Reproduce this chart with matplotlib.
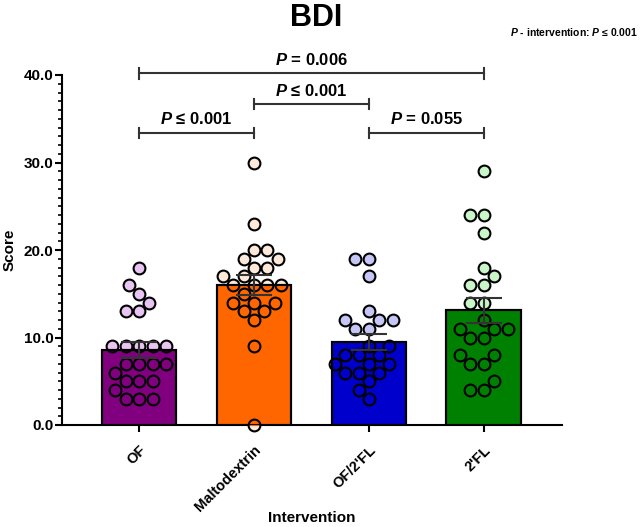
import numpy as np
import matplotlib
matplotlib.use('Agg')
import matplotlib.pyplot as plt

plt.rcParams['font.family'] = ['Liberation Sans', 'DejaVu Sans']
plt.rcParams['font.weight'] = 'bold'
plt.rcParams['mathtext.fontset'] = 'custom'
plt.rcParams['mathtext.it'] = 'Liberation Sans:italic:bold'
plt.rcParams['mathtext.rm'] = 'Liberation Sans:bold'

groups = ['OF', 'Maltodextrin', "OF/2'FL", "2'FL"]

of_scores = [18, 16, 15, 14, 13, 13, 9, 9, 9, 9, 9, 7, 7, 7, 7, 6, 5, 5, 5, 4, 3, 3, 3]
malto_scores = [30, 23, 20, 20, 19, 19, 18, 18, 17, 17, 16, 16, 16, 16, 15, 14, 14, 14, 13, 13, 12, 9, 0]
of2fl_scores = [19, 19, 17, 13, 12, 12, 12, 11, 11, 9, 9, 8, 8, 8, 7, 7, 7, 6, 6, 6, 5, 4, 3]
fl2_scores = [29, 24, 24, 22, 18, 17, 16, 16, 14, 14, 12, 11, 11, 11, 10, 10, 8, 8, 7, 7, 5, 4, 4]
all_scores = [of_scores, malto_scores, of2fl_scores, fl2_scores]

bar_colors = ['#800080', '#ff6600', '#0000cc', '#008000']
point_colors = ['#e8c4f2', '#fde9d9', '#c6c6f6', '#c8f6c8']

# pairwise comparisons: (group a, group b, bracket height, label)
comparisons = [
    (0, 3, 40.2, r'$\mathit{P}$ = 0.006'),
    (1, 2, 36.7, r'$\mathit{P}$ ≤ 0.001'),
    (0, 1, 33.4, r'$\mathit{P}$ ≤ 0.001'),
    (2, 3, 33.4, r'$\mathit{P}$ = 0.055'),
]


def swarm_x(vals, center, ax, diam):
    # simple beeswarm in pixel space, closest-to-centre placement
    pts = ax.transData.transform(np.column_stack([np.full(len(vals), center), vals]))
    ypx = pts[:, 1]
    ppu = ax.transData.transform([[1, 0]])[0, 0] - ax.transData.transform([[0, 0]])[0, 0]
    xs = np.zeros(len(vals))
    placed = []
    for i in np.argsort(ypx, kind='stable'):
        y = ypx[i]
        near = [(px, py) for px, py in placed if abs(py - y) < diam]
        cands = [0.0]
        for px, py in near:
            dx = np.sqrt(diam ** 2 - (py - y) ** 2)
            cands += [px - dx, px + dx]
        cands.sort(key=abs)
        for c in cands:
            if all((c - px) ** 2 + (y - py) ** 2 >= diam ** 2 - 1e-6 for px, py in near):
                xs[i] = c
                break
        placed.append((xs[i], y))
    return center + xs / ppu


fig = plt.figure(figsize=(6.4, 5.27), dpi=100)
ax = fig.add_axes([62 / 640, 1 - 425 / 527, 500 / 640, 350 / 527])
ax.set_xlim(-0.67, 3.68)
ax.set_ylim(0, 40)

pos = np.arange(len(groups))
means = [np.mean(s) for s in all_scores]
sems = [np.std(s, ddof=1) / np.sqrt(len(s)) for s in all_scores]

bars = ax.bar(pos, means, width=0.65, color=bar_colors, edgecolor='black',
              linewidth=1.5, zorder=3)

for i, scores in enumerate(all_scores):
    xs = swarm_x(np.array(scores, float), pos[i], ax, 13.5)
    ax.scatter(xs, scores, s=72, color=point_colors[i], edgecolor='black',
               linewidth=1.5, zorder=2, clip_on=False)
    dark = ax.scatter(xs, scores, s=72, color=bar_colors[i], edgecolor='black',
                      linewidth=1.5, zorder=4)
    dark.set_clip_path(bars[i])

ax.bar(pos, means, width=0.65, fill=False, edgecolor='black', linewidth=1.5, zorder=4.5)
ax.errorbar(pos, means, yerr=sems, fmt='none', ecolor='#333333', elinewidth=1.5,
            capsize=13, capthick=1.5, zorder=6)

for a, b, h, label in comparisons:
    ax.plot([pos[a], pos[b]], [h, h], color='#333333', lw=1.5, clip_on=False)
    for p in (pos[a], pos[b]):
        ax.plot([p, p], [h - 0.6, h + 0.6], color='#333333', lw=1.5, clip_on=False)
    ax.text((pos[a] + pos[b]) / 2, h + 0.6, label, ha='center', va='bottom',
            fontsize=12, fontweight='bold', clip_on=False)

for side in ['top', 'right']:
    ax.spines[side].set_visible(False)
ax.spines['left'].set_linewidth(1.5)
ax.spines['bottom'].set_linewidth(1.5)

ax.set_yticks(np.arange(0, 41, 10))
ax.set_yticklabels(['%.1f' % v for v in np.arange(0, 41, 10)], fontsize=11, fontweight='bold')
ax.set_yticks(np.arange(0, 41, 1), minor=True)
ax.tick_params(axis='y', which='major', length=5, width=1.5, pad=1)
ax.tick_params(axis='y', which='minor', length=3, width=1.2)
ax.set_xticks(pos)
ax.set_xticklabels(groups, rotation=45, ha='right', va='top', rotation_mode='anchor',
                   fontsize=10.5, fontweight='bold')
ax.tick_params(axis='x', length=5, width=1.5, pad=8)

fig.text(316 / 640, 1 - 18 / 527, 'BDI', ha='center', va='center', fontsize=22, fontweight='bold')
fig.text(638 / 640, 1 - 32 / 527, r'$\mathit{P}$ - intervention: $\mathit{P}$ ≤ 0.001',
         ha='right', va='center', fontsize=7.5, fontweight='bold')
fig.text(10 / 640, 1 - 250 / 527, 'Score', rotation=90, ha='center', va='center',
         fontsize=11, fontweight='bold')
fig.text(312 / 640, 1 - 518 / 527, 'Intervention', ha='center', va='center',
         fontsize=11, fontweight='bold')

fig.savefig('out.png', dpi=100)
